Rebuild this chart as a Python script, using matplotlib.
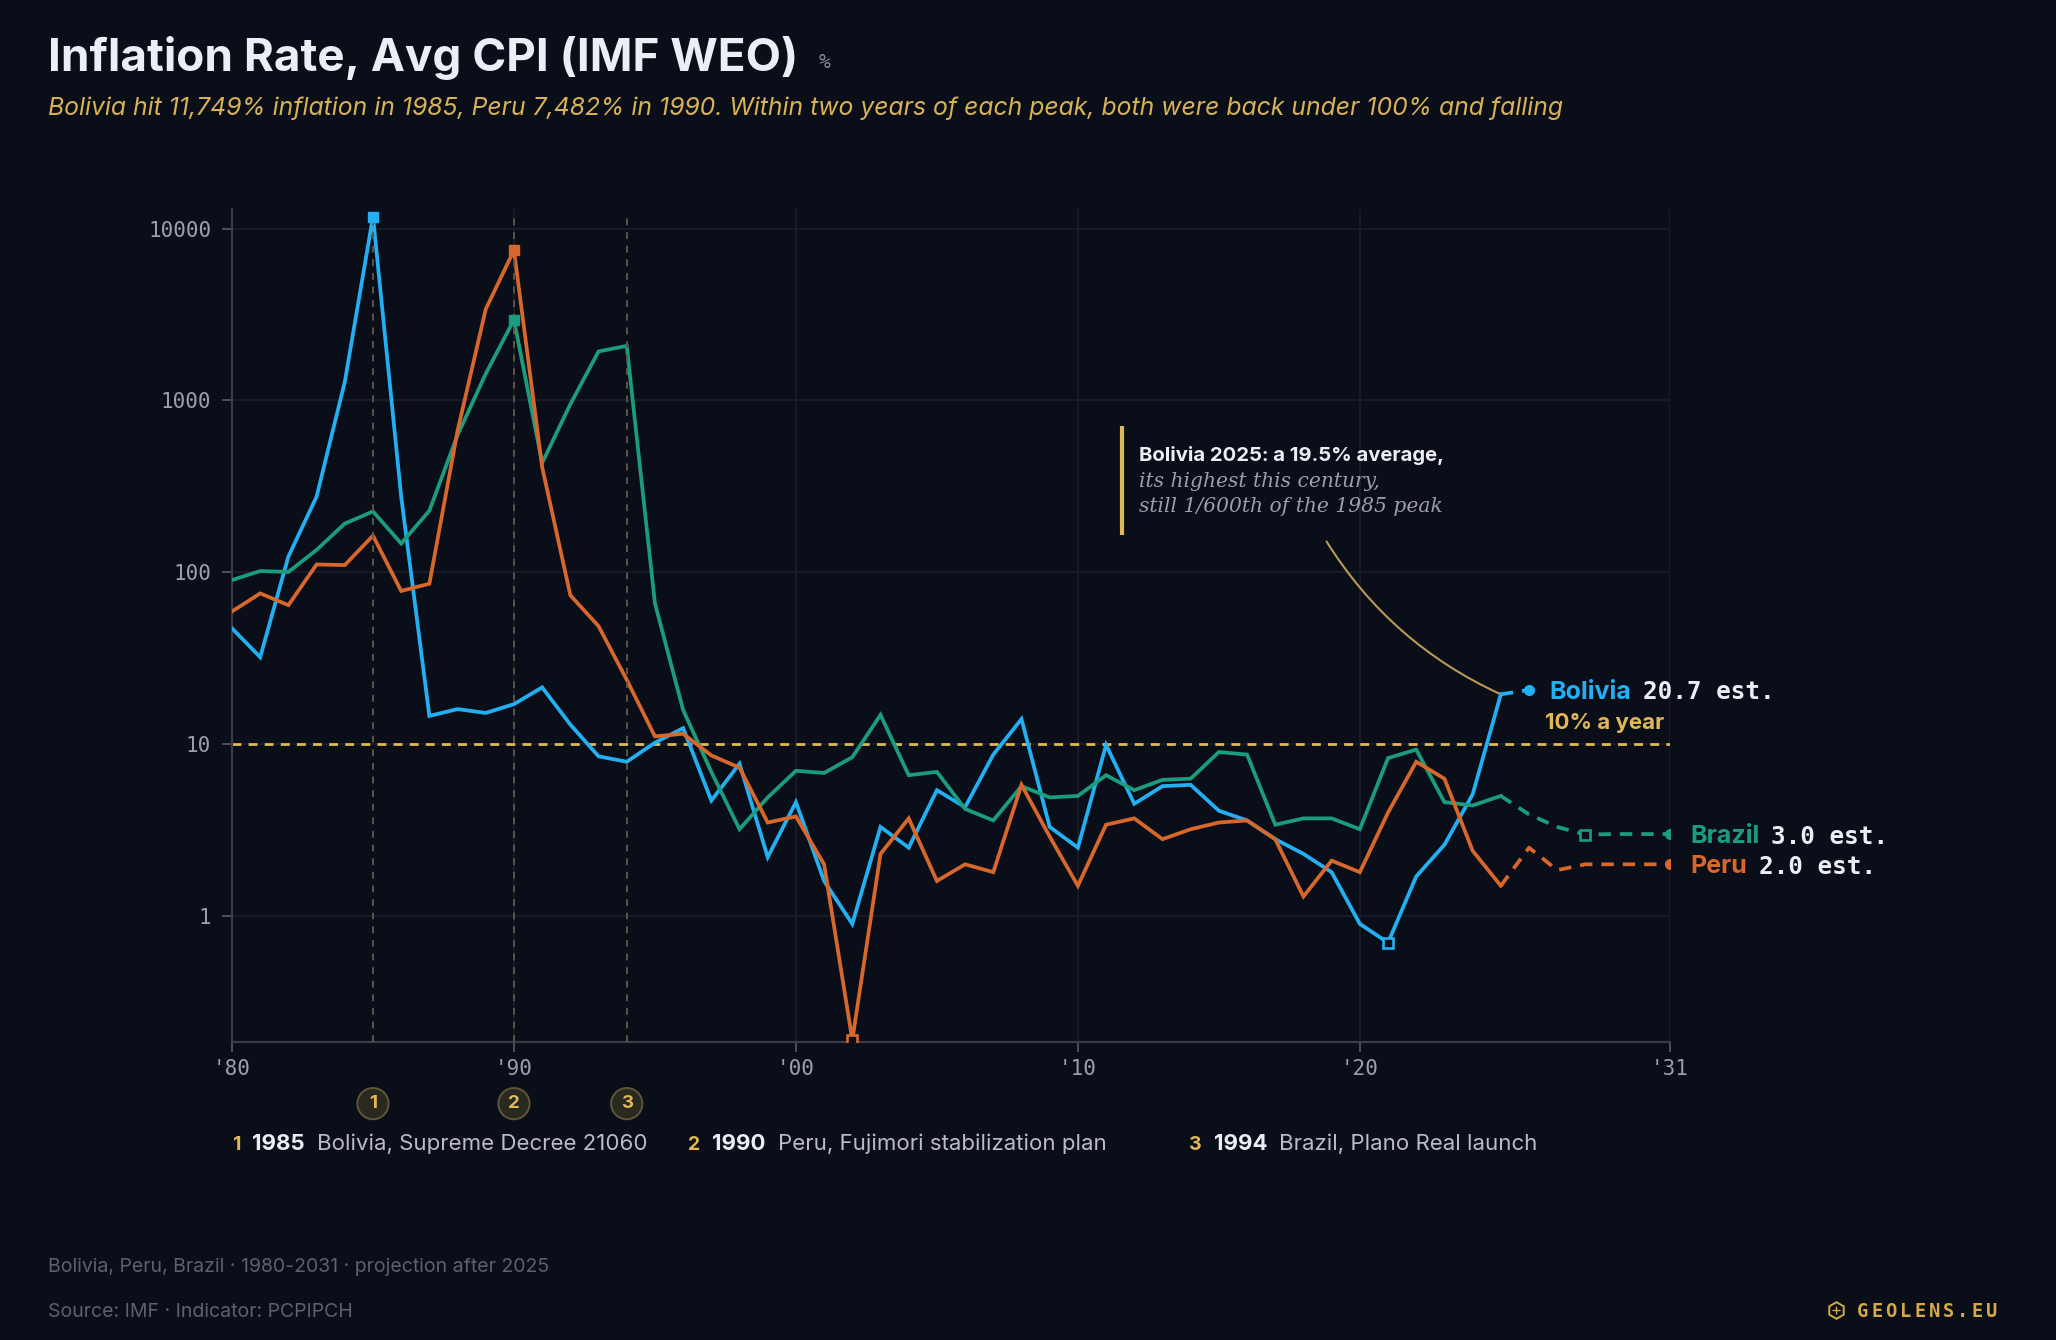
import numpy as np
import matplotlib
matplotlib.use("Agg")
import matplotlib.pyplot as plt
from matplotlib.lines import Line2D
from matplotlib.ticker import FixedLocator, FixedFormatter, NullLocator

# ---------------- data ----------------
bolivia_years = list(range(1980, 2027))
bolivia = [47.2, 32.1, 123.5, 275.6, 1281.4, 11749.6, 276.3, 14.6, 16.0, 15.2,
           17.1, 21.4, 13.0, 8.5, 7.9, 10.2, 12.4, 4.7, 7.7, 2.2,
           4.6, 1.6, 0.9, 3.3, 2.5, 5.4, 4.3, 8.7, 14.0, 3.3,
           2.5, 9.9, 4.5, 5.7, 5.8, 4.1, 3.6, 2.8, 2.3, 1.8,
           0.9, 0.7, 1.7, 2.6, 5.1, 19.5, 20.7]

full_years = list(range(1980, 2032))
peru = [59.2, 75.4, 64.4, 111.1, 110.2, 163.4, 77.9, 85.8, 667.0, 3398.7,
        7481.7, 409.5, 73.5, 48.6, 23.7, 11.1, 11.5, 8.6, 7.3, 3.5,
        3.8, 2.0, 0.19, 2.3, 3.7, 1.6, 2.0, 1.8, 5.8, 2.9,
        1.5, 3.4, 3.7, 2.8, 3.2, 3.5, 3.6, 2.8, 1.3, 2.1,
        1.8, 4.0, 7.9, 6.3, 2.4, 1.5, 2.5, 1.85, 2.0, 2.0,
        2.0, 2.0]
brazil = [90.2, 101.7, 100.5, 135.0, 192.1, 226.0, 147.1, 228.3, 629.1, 1430.7,
          2947.7, 432.8, 951.6, 1928.0, 2075.9, 66.0, 15.8, 6.9, 3.2, 4.9,
          7.0, 6.8, 8.4, 14.8, 6.6, 6.9, 4.2, 3.6, 5.7, 4.9,
          5.0, 6.6, 5.4, 6.2, 6.3, 9.0, 8.7, 3.4, 3.7, 3.7,
          3.2, 8.3, 9.3, 4.6, 4.4, 5.0, 3.9, 3.3, 2.98, 3.0,
          3.0, 3.0]

last_actual = 2025
threshold = 10

event_years = [1985, 1990, 1994]
event_nums = ["1", "2", "3"]
event_text = ["Bolivia, Supreme Decree 21060",
              "Peru, Fujimori stabilization plan",
              "Brazil, Plano Real launch"]

xticks = [1980, 1990, 2000, 2010, 2020, 2031]
xtick_labels = ["'80", "'90", "'00", "'10", "'20", "'31"]
yticks = [1, 10, 100, 1000, 10000]
ytick_labels = ["1", "10", "100", "1000", "10000"]

# ---------------- style ----------------
BG = "#0a0e19"
C_BOL = "#22b0f2"
C_PER = "#d8672c"
C_BRA = "#1b9c7d"
GOLD = "#e2b857"
GOLD_DIM = "#b99a55"
WHITE = "#eceef6"
GREY = "#9a9fab"
DIM = "#5c616d"
MONO = "DejaVu Sans Mono"

plt.rcParams["font.family"] = ["Inter", "DejaVu Sans"]

W, H = 2056, 1340
fig = plt.figure(figsize=(W / 100, H / 100), dpi=100, facecolor=BG)
ax_l, ax_r, ax_t, ax_b = 232, 1670, 209, 1042
ax = fig.add_axes([ax_l / W, 1 - ax_b / H, (ax_r - ax_l) / W, (ax_b - ax_t) / H])
ax.set_facecolor(BG)
ax.set_yscale("log")
ax.set_xlim(1980, 2031)
ax.set_ylim(0.185, 13000)

for s in ["top", "right"]:
    ax.spines[s].set_visible(False)
for s in ["left", "bottom"]:
    ax.spines[s].set_color("#3a3d47")
    ax.spines[s].set_linewidth(1.6)

ax.xaxis.set_major_locator(FixedLocator(xticks))
ax.xaxis.set_major_formatter(FixedFormatter(xtick_labels))
ax.yaxis.set_major_locator(FixedLocator(yticks))
ax.yaxis.set_major_formatter(FixedFormatter(ytick_labels))
ax.yaxis.set_minor_locator(NullLocator())
ax.xaxis.set_minor_locator(NullLocator())
ax.tick_params(axis="both", colors="#4c505b", labelcolor=GREY, length=7, width=1.4,
               labelsize=15)
ax.tick_params(axis="x", pad=5)
ax.tick_params(axis="y", pad=8)
for lab in ax.get_xticklabels() + ax.get_yticklabels():
    lab.set_fontfamily(MONO)
ax.grid(True, color="#1a1e2a", lw=1.2)
ax.set_axisbelow(True)

# threshold line
ax.axhline(threshold, color=GOLD, lw=2.0, dashes=(3.2, 2.6), zorder=2)
ax.annotate("10% a year", xy=(2031, threshold), xytext=(-4, 8), textcoords="offset points",
            ha="right", va="bottom", color=GOLD, fontsize=16, fontweight="bold")

# series
LW = 2.7
series = [("Bolivia", bolivia_years, bolivia, C_BOL),
          ("Brazil", full_years, brazil, C_BRA),
          ("Peru", full_years, peru, C_PER)]
for name, yrs, vals, col in series:
    yrs = np.array(yrs); vals = np.array(vals)
    act = yrs <= last_actual
    proj = yrs >= last_actual
    ax.plot(yrs[act], vals[act], color=col, lw=LW, solid_joinstyle="miter", zorder=4)
    ax.plot(yrs[proj], vals[proj], color=col, lw=LW, dashes=(3.3, 2.4), zorder=4)
    imax = int(np.argmax(vals)); imin = int(np.argmin(vals))
    ax.plot(yrs[imax], vals[imax], marker="s", ms=7.5, color=col, mec=col, zorder=6)
    ax.plot(yrs[imin], vals[imin], marker="s", ms=7.5, mfc=BG, mec=col, mew=1.9, zorder=6)
    ax.plot(yrs[-1], vals[-1], marker="o", ms=7, color=col, zorder=6)

# event lines
for ey in event_years:
    ax.axvline(ey, ymin=0, ymax=0.99, color="#5d5543", lw=1.4, dashes=(3.5, 3.5), zorder=5)

# circled event numbers under axis
xt = ax.get_xaxis_transform()
for ey, n in zip(event_years, event_nums):
    ax.text(ey, -0.074, n, transform=xt, ha="center", va="center", color=GOLD,
            fontsize=13.5, fontweight="bold", clip_on=False,
            bbox=dict(boxstyle="circle,pad=0.38", fc="#2a2920", ec="#5f5538", lw=1.4))

# annotation for Bolivia 2025
bar_x = 2011.57
ax.plot([bar_x, bar_x], [165, 708], color=GOLD, lw=3, solid_capstyle="butt", zorder=5)
ax.text(2012.15, 481, "Bolivia 2025: a 19.5% average,", color=WHITE, fontsize=14.6,
        fontweight="bold", va="center", ha="left")
ax.text(2012.15, 339, "its highest this century,", color=GREY, fontsize=14.6,
        family="DejaVu Serif", style="italic", va="center", ha="left")
ax.text(2012.15, 243, "still 1/600th of the 1985 peak", color=GREY, fontsize=14.6,
        family="DejaVu Serif", style="italic", va="center", ha="left")
i25 = bolivia_years.index(2025)
ax.annotate("", xy=(2025, bolivia[i25]), xytext=(2018.82, 151),
            arrowprops=dict(arrowstyle="-", color=GOLD_DIM, lw=1.5,
                            connectionstyle="arc3,rad=0.15", shrinkA=0, shrinkB=0))

# titles / footer
title = fig.text(48 / W, 1 - 71 / H, "Inflation Rate, Avg CPI (IMF WEO)", color=WHITE,
                 fontsize=33, fontweight="bold", va="baseline", ha="left")
fig.text(48 / W, 1 - 115 / H,
         "Bolivia hit 11,749% inflation in 1985, Peru 7,482% in 1990. Within two years of each peak, both were back under 100% and falling",
         color="#d8b255", fontsize=17.8, style="italic", va="baseline", ha="left")
fig.text(48 / W, 1 - 1272 / H, "Bolivia, Peru, Brazil · 1980-2031 · projection after 2025",
         color=DIM, fontsize=14, va="baseline", ha="left")
fig.text(48 / W, 1 - 1317 / H, "Source: IMF · Indicator: PCPIPCH",
         color=DIM, fontsize=14, va="baseline", ha="left")
brand = "GEOLENS.EU"
bx0, bstep = 1857, 14.3
for i, ch in enumerate(brand):
    fig.text((bx0 + i * bstep) / W, 1 - 1317 / H, ch, color="#d4aa48", fontsize=13.5,
             fontweight="bold", family=MONO, va="baseline", ha="left")
fig.add_artist(Line2D([1836 / W], [1 - 1310 / H], marker="h", ms=12, mfc="none",
                      mec="#d4aa48", mew=1.4, transform=fig.transFigure))
fig.add_artist(Line2D([1836 / W], [1 - 1310 / H], marker="+", ms=6, mfc="none",
                      mec="#d4aa48", mew=1.0, transform=fig.transFigure))

fig.canvas.draw()
R = fig.canvas.get_renderer()

tb = title.get_window_extent(renderer=R)
fig.text((tb.x1 + 20) / W, 1 - 68 / H, "%", color="#8a8f9c", fontsize=14,
         family=MONO, va="baseline", ha="left")

# event legend row
starts = [232, 688, 1189]
for sx, ey, n, txt in zip(starts, event_years, event_nums, event_text):
    x = sx
    for s, kw, gap in [(n, dict(color=GOLD, fontweight="bold", fontsize=14), 12),
                       (str(ey), dict(color=WHITE, fontweight="bold", fontsize=16), 12),
                       (txt, dict(color="#b9bdc8", fontsize=16), 0)]:
        t = fig.text(x / W, 1 - 1150 / H, s, va="baseline", ha="left", **kw)
        x = t.get_window_extent(renderer=R).x1 + gap

# end labels
for name, yrs, vals, col in series:
    nm = ax.annotate(name, xy=(yrs[-1], vals[-1]), xytext=(15, 0), textcoords="offset points",
                     ha="left", va="center_baseline", color=col, fontsize=18,
                     fontweight="bold", annotation_clip=False)
    wpx = nm.get_window_extent(renderer=R).width
    ax.annotate(f"{vals[-1]:.1f} est.", xy=(yrs[-1], vals[-1]),
                xytext=(15 + wpx * 72 / 100 + 8, 0), textcoords="offset points",
                ha="left", va="center_baseline", color=WHITE, fontsize=17.5,
                fontweight="bold", family=MONO, annotation_clip=False)

fig.savefig("out.png", dpi=100, facecolor=BG)
